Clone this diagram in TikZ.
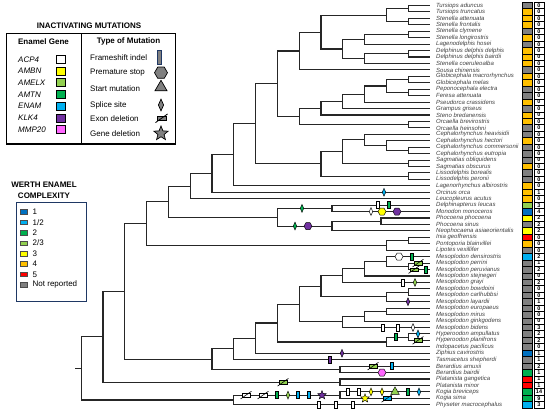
\documentclass[tikz,border=0pt]{standalone}
\usepackage{fontspec}
\setmainfont{Liberation Sans}
\usetikzlibrary{shapes.geometric,calc}
\definecolor{ambn}{HTML}{FFFF00}
\definecolor{amelx}{HTML}{92D050}
\definecolor{amtn}{HTML}{00B050}
\definecolor{enam}{HTML}{00B0F0}
\definecolor{klk}{HTML}{7030A0}
\definecolor{mmp}{HTML}{FF66FF}
\definecolor{wone}{HTML}{0070C0}
\definecolor{wred}{HTML}{FF0000}
\definecolor{worange}{HTML}{FFC000}
\definecolor{wgray}{HTML}{808080}
\definecolor{navy}{HTML}{1F3864}
\newcounter{mkc}
\newcommand\tn[4]{\path let \p1=(#3),\p2=(#4) in coordinate (#1) at (#2pt,{(\y1+\y2)/2});
  \draw[tree] (#1) |- (#3); \draw[tree] (#1) |- (#4);}
\newcommand\mk[3]{\stepcounter{mkc}\path let \p1=(#2) in node[#1] (mk\arabic{mkc}) at (#3pt,\y1) {};}
\newcommand\ex[3]{\stepcounter{mkc}\path let \p1=(#2) in node[exd,fill=#1] (mk\arabic{mkc}) at (#3pt,\y1) {};
  \draw[line width=0.6pt] ([shift={(-1.2,1.8)}]mk\arabic{mkc}.south west) -- ([shift={(1.2,-1.8)}]mk\arabic{mkc}.north east);}
\begin{document}
\begin{tikzpicture}[x=1pt,y=-1pt,
  tree/.style={line width=1.1pt, black!85},
  fsm/.style={rectangle, draw=black, line width=0.45pt, minimum width=3.4pt, minimum height=7pt, inner sep=0pt},
  psm/.style={regular polygon, regular polygon sides=6, draw=black, line width=0.45pt, minimum size=8pt, inner sep=0pt},
  spm/.style={diamond, draw=black, line width=0.45pt, minimum width=3.6pt, minimum height=8pt, inner sep=0pt},
  stm/.style={regular polygon, regular polygon sides=3, draw=black, line width=0.45pt, minimum size=10pt, inner sep=0pt},
  gdm/.style={star, star points=5, star point ratio=2.3, draw=black, line width=0.45pt, minimum size=9pt, inner sep=0pt},
  exd/.style={rectangle, draw=black, line width=0.45pt, minimum width=8pt, minimum height=3.6pt, inner sep=0pt},
  spname/.style={anchor=west, inner sep=0pt, text=black!75, font=\fontsize{6}{7}\selectfont\itshape},
  wcell/.style={rectangle, draw=black, line width=0.5pt, minimum width=10pt, minimum height=6.44pt, inner sep=0pt},
  ncell/.style={rectangle, draw=black, line width=0.5pt, fill=white, minimum width=10pt, minimum height=6.44pt, inner sep=0pt, font=\fontsize{5.5}{6}\selectfont\bfseries},
  legtxt/.style={anchor=west, inner sep=0pt, font=\fontsize{8}{9}\selectfont},
  legbold/.style={inner sep=0pt, font=\fontsize{8}{9}\selectfont\bfseries},
  gsq/.style={rectangle, draw=black, line width=0.6pt, minimum width=9pt, minimum height=8pt, inner sep=0pt},
  wsq/.style={rectangle, draw=black!70, line width=0.5pt, minimum width=7.5pt, minimum height=4.5pt, inner sep=0pt}
]
\useasboundingbox (0,0) rectangle (550,413);
% tips
\foreach \i in {1,...,63} \coordinate (t\i) at (430,{5.5+(\i-1)*6.44});
% Delphinidae
\tn{tur}{408.2}{t1}{t2}
\tn{saf}{408.2}{t3}{t4}
\tn{T}{386.4}{tur}{saf}
\tn{cl}{408.2}{t5}{t6}
\tn{cll}{364.6}{cl}{t7}
\tn{dd}{408.2}{t8}{t9}
\tn{ddc}{364.6}{dd}{t10}
\tn{X}{342.8}{cll}{ddc}
\tn{Y}{321}{T}{X}
\tn{YS}{299.2}{Y}{t11}
\tn{glob}{408.2}{t12}{t13}
\tn{pf}{408.2}{t14}{t15}
\tn{gpf}{386.4}{glob}{pf}
\tn{gpfp}{364.6}{gpf}{t16}
\tn{gg}{342.8}{gpfp}{t17}
\tn{ggs}{321}{gg}{t18}
\tn{orc}{408.2}{t19}{t20}
\tn{G}{299.2}{ggs}{orc}
\tn{Dfive}{277.4}{YS}{G}
\tn{cet}{408.2}{t23}{t24}
\tn{chce}{386.4}{t22}{cet}
\tn{ceph}{364.6}{t21}{chce}
\tn{sag}{408.2}{t25}{t26}
\tn{Ltwo}{342.8}{ceph}{sag}
\tn{lis}{408.2}{t27}{t28}
\tn{Lone}{321}{Ltwo}{lis}
\tn{Dfour}{255.6}{Dfive}{Lone}
\tn{Dthree}{233.8}{Dfour}{t29}
\tn{Dtwo}{212}{Dthree}{t30}
\tn{Done}{190.2}{Dtwo}{t31}
\tn{mon}{332}{t32}{t33}
\tn{pho}{381}{t34}{t35}
\tn{phoc}{332}{pho}{t36}
\tn{MP}{277.4}{mon}{phoc}
\tn{Dzero}{168.4}{Done}{MP}
\tn{ip}{408.2}{t37}{t38}
\tn{ipl}{386.4}{ip}{t39}
\tn{A}{146.6}{Dzero}{ipl}
% Ziphiidae
\tn{pp}{408.2}{t41}{t42}
\tn{dpp}{386.4}{t40}{pp}
\tn{dpps}{364.6}{dpp}{t43}
\tn{Na}{342.8}{dpps}{t44}
\tn{bc}{408.2}{t45}{t46}
\tn{bcl}{386.4}{bc}{t47}
\tn{Zfive}{321}{Na}{bcl}
\tn{em}{386.4}{t48}{t49}
\tn{emg}{364.6}{em}{t50}
\tn{emgb}{342.8}{emg}{t51}
\tn{Zfour}{299.2}{Zfive}{emgb}
\tn{hyp}{408.2}{t52}{t53}
\tn{hi}{386.4}{hyp}{t54}
\tn{Zthree}{277.4}{Zfour}{hi}
\tn{Ztwo}{255.6}{Zthree}{t55}
\tn{Zone}{233.8}{Ztwo}{t56}
\tn{ber}{340}{t57}{t58}
\tn{Zzero}{212}{Zone}{ber}
\tn{B}{124.8}{A}{Zzero}
\tn{pla}{340}{t59}{t60}
\tn{C}{103}{B}{pla}
\tn{kog}{340}{t61}{t62}
\tn{phy}{233.8}{kog}{t63}
\tn{root}{81.2}{C}{phy}
\path let \p1=(root) in coordinate (rs) at (75pt,\y1);
\draw[tree] (rs) -- (root);
% mutations
\mk{spm,fill=enam}{t30}{384}
\mk{spm,fill=amtn}{mon}{302}
\mk{spm,fill=amtn}{phoc}{295}
\mk{psm,fill=klk}{phoc}{308}
\mk{fsm,fill=white}{t32}{378}
\mk{fsm,fill=amtn}{t32}{389}
\mk{spm,fill=white}{t33}{371}
\mk{psm,fill=ambn}{t33}{382}
\mk{psm,fill=klk}{t33}{397}
\mk{psm,fill=white}{t40}{399}
\mk{fsm,fill=amtn}{t40}{412}
\ex{amelx}{t41}{418}
\ex{amelx}{t42}{414}
\mk{fsm,fill=amtn}{t42}{426}
\mk{fsm,fill=white}{t44}{403}
\mk{spm,fill=amelx}{t44}{415}
\mk{spm,fill=klk}{t47}{408}
\mk{fsm,fill=white}{t51}{383}
\mk{fsm,fill=white}{t51}{398}
\mk{spm,fill=white}{t51}{413}
\mk{fsm,fill=amtn}{hyp}{396}
\mk{spm,fill=enam}{t52}{418}
\ex{amelx}{t53}{418}
\mk{spm,fill=klk}{t55}{342}
\mk{fsm,fill=klk}{t56}{330}
\ex{amelx}{t57}{373}
\mk{fsm,fill=enam}{t57}{392}
\mk{psm,fill=mmp}{t58}{382}
\ex{amelx}{pla}{283}
\ex{white}{kog}{246}
\ex{white}{kog}{263}
\mk{fsm,fill=amtn}{kog}{277}
\mk{spm,fill=amelx}{kog}{288}
\mk{fsm,fill=enam}{kog}{298}
\mk{fsm,fill=enam}{kog}{309}
\mk{gdm,fill=klk}{kog}{322}
\mk{fsm,fill=white}{t61}{348}
\mk{fsm,fill=white}{t61}{359}
\mk{spm,fill=ambn}{t61}{371}
\mk{spm,fill=ambn}{t61}{382}
\mk{stm,fill=amelx}{t61}{395}
\mk{fsm,fill=amtn}{t61}{408}
\mk{spm,fill=enam}{t61}{419}
\mk{gdm,fill=ambn}{t62}{365}
\ex{enam}{t62}{387}
\mk{fsm,fill=white}{t63}{319}
\mk{fsm,fill=white}{t63}{336}
\mk{fsm,fill=white}{t63}{353}
% species names, Werth column, counts
\foreach \i/\nm/\wc/\nc in {
1/Tursiops aduncus/wgray/0, 2/Tursiops truncatus/worange/0, 3/Stenella attenuata/worange/0,
4/Stenella frontalis/worange/0, 5/Stenella clymene/wgray/0, 6/Stenella longirostris/worange/0,
7/Lagenodelphis hosei/wgray/0, 8/Delphinus delphis delphis/worange/0, 9/Delphinus delphis bairdii/worange/0,
10/Stenella coeruleoalba/worange/0, 11/Sousa chinensis/wgray/0, 12/Globicephala macrorhynchus/worange/0,
13/Globicephala melas/worange/0, 14/Peponocephala electra/wgray/0, 15/Feresa attenuata/wgray/0,
16/Pseudorca crassidens/worange/0, 17/Grampus griseus/wgray/0, 18/Steno bredanensis/worange/0,
19/Orcaella brevirostris/worange/0, 20/Orcaella heinsohni/wgray/0, 21/Cephalorhynchus heavisidii/wgray/0,
22/Cephalorhynchus hectori/worange/0, 23/Cephalorhynchus commersonii/wgray/0, 24/Cephalorhynchus eutropia/wgray/0,
25/Sagmatias obliquidens/wgray/0, 26/Sagmatias obscurus/worange/0, 27/Lissodelphis borealis/wgray/0,
28/Lissodelphis peronii/wgray/0, 29/Lagenorhynchus albirostris/worange/0, 30/Orcinus orca/worange/1,
31/Leucopleurus acutus/worange/0, 32/Delphinapterus leucas/amelx/3, 33/Monodon monoceros/wone/4,
34/Phocoena phocoena/ambn/2, 35/Phocoena sinus/wgray/2, 36/Neophocaena asiaeorientalis/ambn/2,
37/Inia geoffrensis/wred/0, 38/Pontoporia blainvillei/worange/0, 39/Lipotes vexillifer/wgray/0,
40/Mesoplodon densirostris/enam/2, 41/Mesoplodon perrini/wgray/1, 42/Mesoplodon peruvianus/wgray/2,
43/Mesoplodon stejnegeri/wgray/0, 44/Mesoplodon grayi/wgray/2, 45/Mesoplodon bowdoini/wgray/0,
46/Mesoplodon carlhubbsi/wgray/0, 47/Mesoplodon layardii/wgray/1, 48/Mesoplodon europaeus/wgray/0,
49/Mesoplodon mirus/wgray/0, 50/Mesoplodon ginkgodens/wgray/0, 51/Mesoplodon bidens/wgray/3,
52/Hyperoodon ampullatus/wgray/2, 53/Hyperoodon planifrons/wgray/2, 54/Indopacetus pacificus/wgray/0,
55/Ziphius cavirostris/wone/1, 56/Tasmacetus shepherdi/wgray/1, 57/Berardius arnuxii/wgray/2,
58/Berardius bairdii/amtn/1, 59/Platanista gangetica/wred/1, 60/Platanista minor/wred/1,
61/Kogia breviceps/amtn/14, 62/Kogia sima/amtn/9, 63/Physeter macrocephalus/enam/3}{
  \node[spname] (sp\i) at ($(t\i)+(6,0)$) {\nm};
  \node[wcell, fill=\wc] (w\i) at ($(t\i)+(97,0)$) {};
  \node[ncell] (c\i) at ($(t\i)+(109,0)$) {\nc};
}
% legend: inactivating mutations
\node[legbold] (ltitle) at (89,25.7) {INACTIVATING MUTATIONS};
\draw[line width=1.2pt] (6.7,33.3) rectangle (175.7,144);
\draw[line width=1.2pt] (81.7,33.3) -- (81.7,144);
\node[legbold] (lgene) at (43.5,41.7) {Enamel Gene};
\node[legbold] (ltype) at (128.5,41.7) {Type of Mutation};
\foreach \j/\g/\gc in {0/ACP4/white, 1/AMBN/ambn, 2/AMELX/amelx, 3/AMTN/amtn, 4/ENAM/enam, 5/KLK4/klk, 6/MMP20/mmp}{
  \node[legtxt, font=\fontsize{8}{9}\selectfont\itshape] (g\j) at (18,{59.3+11.7*\j}) {\g};
  \node[gsq, fill=\gc] (gs\j) at (60.5,{59.3+11.7*\j}) {};
}
\node[legtxt] (m1) at (90,57.3) {Frameshift indel};
\node[legtxt] (m2) at (90,72.7) {Premature stop};
\node[legtxt] (m3) at (90,88.3) {Start mutation};
\node[legtxt] (m4) at (90,105) {Splice site};
\node[legtxt] (m5) at (90,118.3) {Exon deletion};
\node[legtxt] (m6) at (90,133.3) {Gene deletion};
\node[fsm, draw=navy, line width=0.8pt, fill=wgray, minimum width=4pt, minimum height=14pt] (s1) at (159.5,57.3) {};
\node[psm, fill=wgray, line width=0.7pt, minimum size=13pt] (s2) at (161,72.7) {};
\node[stm, fill=wgray, line width=0.7pt, minimum size=14pt] (s3) at (161,87.3) {};
\node[spm, fill=wgray, line width=0.7pt, minimum width=5.5pt, minimum height=12pt] (s4) at (161,105) {};
\node[exd, fill=wgray, line width=0.7pt, minimum width=9pt, minimum height=4pt] (s5) at (161.5,118.3) {};
\draw[line width=0.8pt] ([shift={(-1.2,2)}]s5.south west) -- ([shift={(1.2,-2)}]s5.north east);
\node[gdm, fill=wgray, line width=0.7pt, minimum size=15pt] (s6) at (161,133.5) {};
% legend: Werth enamel complexity
\node[legbold] (wt1) at (44,184.5) {WERTH ENAMEL};
\node[legbold] (wt2) at (44,196) {COMPLEXITY};
\draw[navy, line width=0.8pt] (16,202) rectangle (86,301.7);
\foreach \j/\lab/\lc in {0/1/wone, 1/1\slash 2/enam, 2/2/amtn, 3/2\slash 3/amelx, 4/3/ambn, 5/4/worange, 6/5/wred, 7/Not reported/wgray}{
  \node[wsq, fill=\lc] (ws\j) at (23.5,{211.7+10.45*\j}) {};
  \node[legtxt] (wl\j) at (32.5,{211.7+10.45*\j}) {\lab};
}
\end{tikzpicture}
\end{document}
